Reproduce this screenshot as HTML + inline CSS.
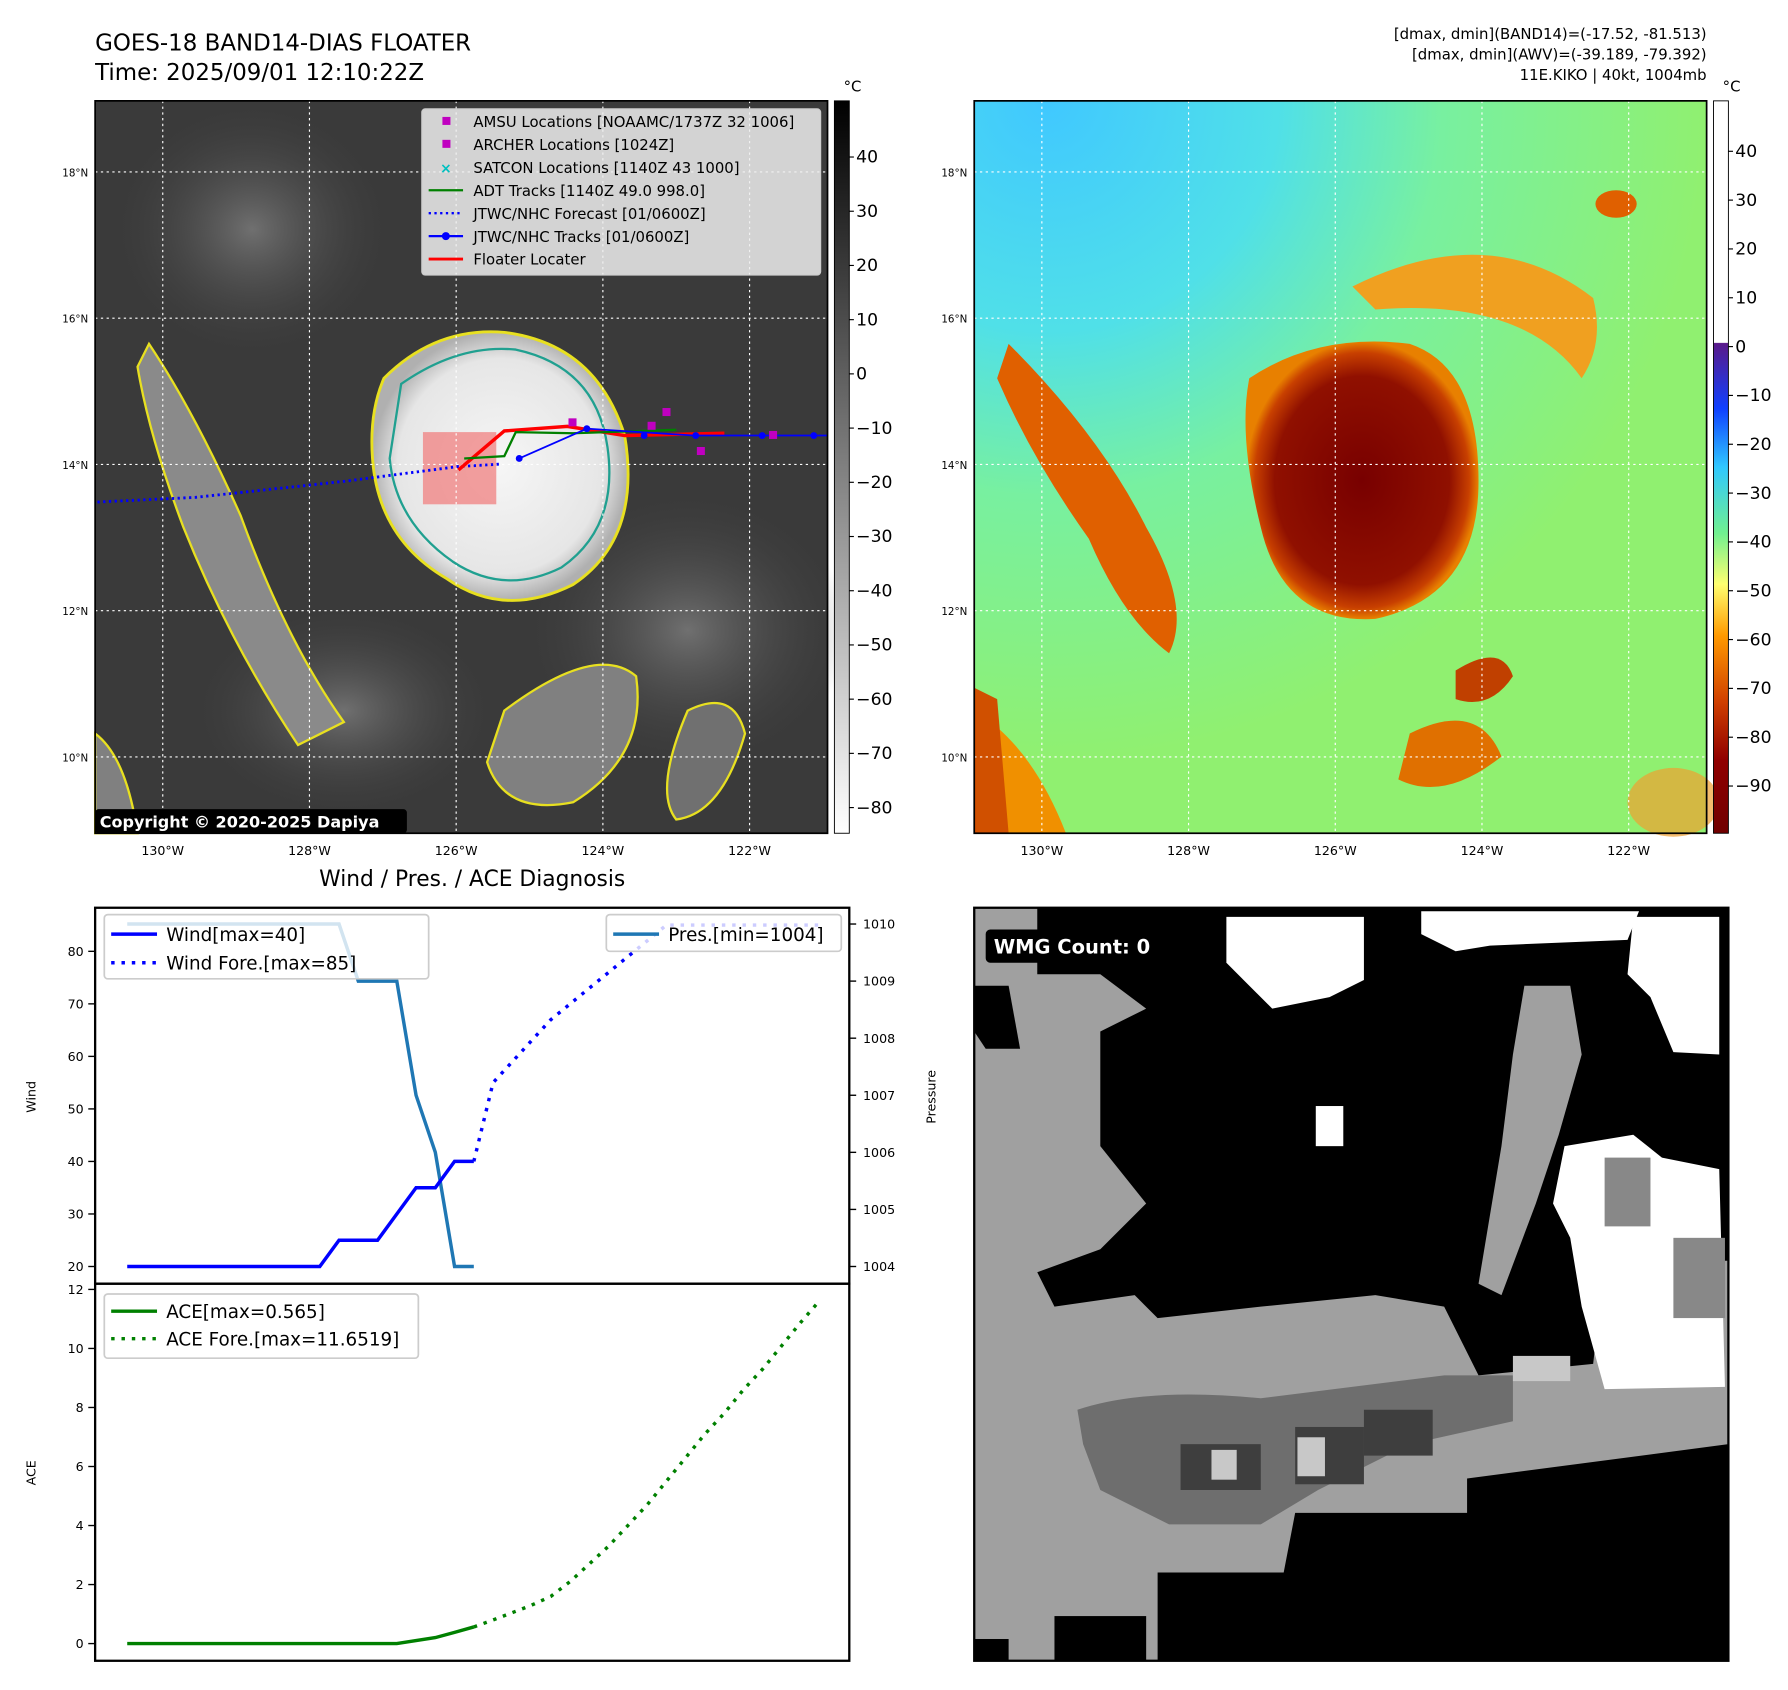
<!DOCTYPE html>
<html><head><meta charset="utf-8"><style>html,body{margin:0;padding:0;background:#fff}svg{display:block}text{font-family:"DejaVu Sans","Liberation Sans",sans-serif}</style></head>
<body>
<svg id="fig" width="1788" height="1690" viewBox="0 0 1560 1474.5" preserveAspectRatio="none" xmlns="http://www.w3.org/2000/svg">
<defs>
<linearGradient id="gcb" x1="0" y1="0" x2="0" y2="1"><stop offset="0" stop-color="#000"/><stop offset="1" stop-color="#fff"/></linearGradient>
<linearGradient id="jcb" x1="0" y1="0" x2="0" y2="1">
<stop offset="0" stop-color="#fff"/><stop offset="0.33" stop-color="#fff"/><stop offset="0.331" stop-color="#5a1a8a"/><stop offset="0.42" stop-color="#1040ff"/><stop offset="0.5" stop-color="#30c8ff"/><stop offset="0.59" stop-color="#70f090"/><stop offset="0.66" stop-color="#ffff70"/><stop offset="0.73" stop-color="#ff9a00"/><stop offset="0.82" stop-color="#d04000"/><stop offset="0.9" stop-color="#900000"/><stop offset="1" stop-color="#700000"/></linearGradient>
<radialGradient id="storm" cx="0.5" cy="0.5" r="0.5"><stop offset="0" stop-color="#f6f6f6"/><stop offset="0.8" stop-color="#e6e6e6"/><stop offset="1" stop-color="#b0b0b0"/></radialGradient>
<radialGradient id="hot" cx="0.5" cy="0.5" r="0.5"><stop offset="0" stop-color="#780000"/><stop offset="0.75" stop-color="#901000"/><stop offset="0.92" stop-color="#c84000"/><stop offset="1" stop-color="#e88000"/></radialGradient>
<radialGradient id="cyanbg" cx="0.1" cy="0.0" r="0.9"><stop offset="0" stop-color="#40c8ff"/><stop offset="0.35" stop-color="#50e0e8"/><stop offset="0.6" stop-color="#78f0a0"/><stop offset="1" stop-color="#90f070"/></radialGradient>
<radialGradient id="grayhaze" cx="0.5" cy="0.5" r="0.5"><stop offset="0" stop-color="#707070"/><stop offset="1" stop-color="#404040" stop-opacity="0"/></radialGradient>
</defs>

<text x="83" y="44" font-size="20">GOES-18 BAND14-DIAS FLOATER</text>
<text x="83" y="70" font-size="20">Time: 2025/09/01 12:10:22Z</text>
<text x="1489" y="34" font-size="13" text-anchor="end">[dmax, dmin](BAND14)=(-17.52, -81.513)</text>
<text x="1489" y="52" font-size="13" text-anchor="end">[dmax, dmin](AWV)=(-39.189, -79.392)</text>
<text x="1489" y="70" font-size="13" text-anchor="end">11E.KIKO | 40kt, 1004mb</text>

<g>
<rect x="83" y="88" width="639" height="639" fill="#3a3a3a"/>
<ellipse cx="220" cy="200" rx="120" ry="110" fill="url(#grayhaze)"/>
<ellipse cx="600" cy="550" rx="140" ry="120" fill="url(#grayhaze)"/>
<ellipse cx="300" cy="620" rx="130" ry="90" fill="url(#grayhaze)"/>
<path d="M130 300 Q170 360 210 450 Q250 560 300 630 L260 650 Q200 560 160 460 Q130 380 120 320Z" fill="#8a8a8a" stroke="#e8e020" stroke-width="2"/>
<path d="M335 330 Q380 285 440 290 Q520 300 545 380 Q560 470 500 510 Q440 540 390 505 Q330 470 325 400 Q322 360 335 330Z" fill="url(#storm)" stroke="#e8e020" stroke-width="2.5"/>
<path d="M350 335 Q400 300 450 305 Q520 320 530 390 Q540 460 490 495 Q440 520 395 490 Q345 455 340 400Z" fill="none" stroke="#20a090" stroke-width="2"/>
<path d="M440 620 Q520 560 555 590 Q565 660 500 700 Q440 712 425 665Z" fill="#808080" stroke="#e8e020" stroke-width="2"/>
<path d="M600 620 Q640 600 650 640 Q630 710 590 715 Q570 690 600 620Z" fill="#707070" stroke="#e8e020" stroke-width="2"/>
<path d="M83 640 Q110 660 120 727 L83 727Z" fill="#808080" stroke="#e8e020" stroke-width="2"/>
<rect x="369" y="377" width="64" height="63" fill="#f08080" opacity="0.75"/>
</g>
<g id="gridL" stroke="#fff" stroke-dasharray="2,3" stroke-width="1"></g>
<g>
<path d="M85 438 L170 434 L300 420 L400 407 L436 405" fill="none" stroke="#0000ff" stroke-width="2.5" stroke-dasharray="2,3"/>
<path d="M400 410 L440 376 L495 372 L545 380 L632 378" fill="none" stroke="#ff0000" stroke-width="3"/>
<path d="M405 400 L440 398 L450 377 L500 378 L590 375" fill="none" stroke="#008000" stroke-width="2"/>
<path d="M453 400 L512 374 L605 380 L722 380" fill="none" stroke="#0000ff" stroke-width="1.5"/>
<circle cx="453" cy="400" r="3" fill="#0000ff"/><circle cx="512" cy="374" r="3" fill="#0000ff"/><circle cx="562" cy="380" r="3" fill="#0000ff"/><circle cx="607" cy="380" r="3" fill="#0000ff"/><circle cx="665" cy="380" r="3" fill="#0000ff"/><circle cx="710" cy="380" r="3" fill="#0000ff"/>
<rect x="496" y="365" width="7" height="7" fill="#c000c0"/><rect x="578" y="356" width="7" height="7" fill="#c000c0"/><rect x="565" y="368" width="7" height="7" fill="#c000c0"/><rect x="608" y="390" width="7" height="7" fill="#c000c0"/><rect x="671" y="376" width="7" height="7" fill="#c000c0"/>
</g>
<g>
<rect x="368" y="95" width="348" height="145" rx="3" fill="#eee" fill-opacity="0.85" stroke="#ccc"/>
<rect x="386" y="102" width="7" height="7" fill="#c000c0"/><text x="413" y="111" font-size="13">AMSU Locations [NOAAMC/1737Z 32 1006]</text>
<rect x="386" y="122" width="7" height="7" fill="#c000c0"/><text x="413" y="131" font-size="13">ARCHER Locations [1024Z]</text>
<text x="384" y="151" font-size="12" fill="#00c0c0" font-weight="bold">×</text><text x="413" y="151" font-size="13">SATCON Locations [1140Z 43 1000]</text>
<line x1="374" y1="166" x2="404" y2="166" stroke="#008000" stroke-width="2"/><text x="413" y="171" font-size="13">ADT Tracks [1140Z 49.0 998.0]</text>
<line x1="374" y1="186" x2="404" y2="186" stroke="#0000ff" stroke-width="2" stroke-dasharray="2,3"/><text x="413" y="191" font-size="13">JTWC/NHC Forecast [01/0600Z]</text>
<line x1="374" y1="206" x2="404" y2="206" stroke="#0000ff" stroke-width="2"/><circle cx="389" cy="206" r="3.5" fill="#0000ff"/><text x="413" y="211" font-size="13">JTWC/NHC Tracks [01/0600Z]</text>
<line x1="374" y1="226" x2="404" y2="226" stroke="#ff0000" stroke-width="2.5"/><text x="413" y="231" font-size="13">Floater Locater</text>
</g>
<rect x="83" y="88" width="639" height="639" fill="none" stroke="#000" stroke-width="1.5"/>
<rect x="83" y="706" width="272" height="21" rx="3" fill="#000"/>
<text x="87" y="722" font-size="14" font-weight="bold" fill="#fff">Copyright © 2020-2025 Dapiya</text>
<rect x="728" y="88" width="13" height="639" fill="url(#gcb)" stroke="#000" stroke-width="0.8"/>
<text x="736" y="80" font-size="13">°C</text>
<g id="cbL" font-size="15"></g>

<g>
<rect x="850" y="88" width="639" height="639" fill="url(#cyanbg)"/>
<path d="M880 300 Q960 380 1000 460 Q1040 530 1020 570 Q980 540 950 470 Q900 400 870 330Z" fill="#e06000"/>
<path d="M850 620 Q900 650 930 727 L850 727Z" fill="#f09000"/>
<path d="M850 600 L870 610 L880 727 L850 727Z" fill="#d05000"/>
<path d="M1180 250 Q1300 190 1390 260 Q1400 300 1380 330 Q1330 260 1200 270Z" fill="#f0a020"/>
<path d="M1090 330 Q1150 290 1230 300 Q1290 320 1290 420 Q1290 520 1200 540 Q1120 545 1100 460 Q1080 380 1090 330Z" fill="url(#hot)"/>
<path d="M1270 585 Q1310 560 1320 590 Q1300 620 1270 610Z" fill="#c04000"/>
<path d="M1230 640 Q1290 610 1310 660 Q1260 700 1220 680Z" fill="#e07000"/>
<ellipse cx="1410" cy="178" rx="18" ry="12" fill="#e06000"/>
<ellipse cx="1460" cy="700" rx="40" ry="30" fill="#f0a030" opacity="0.7"/>
</g>
<g id="gridR" stroke="#fff" stroke-dasharray="2,3" stroke-width="1"></g>
<rect x="850" y="88" width="639" height="639" fill="none" stroke="#000" stroke-width="1.5"/>
<rect x="1495" y="88" width="13" height="639" fill="url(#jcb)" stroke="#000" stroke-width="0.8"/>
<text x="1503" y="80" font-size="13">°C</text>
<g id="cbR" font-size="15"></g>
<g id="mapTicks" font-size="11"></g>

<g>
<rect x="850" y="792" width="658" height="657" fill="#a0a0a0"/>
<path d="M905 792 L1508 792 L1508 1100 L1400 1100 L1390 1190 L1290 1200 L1260 1140 L1200 1130 L1100 1140 L1010 1150 L990 1130 L920 1140 L905 1110 L960 1090 L1000 1050 L960 1000 L960 900 L1000 880 L960 850 L905 850Z" fill="#000"/>
<path d="M850 860 L880 860 L890 915 L860 915 L850 900Z" fill="#000"/>
<path d="M1330 860 L1370 860 L1380 920 L1360 990 L1340 1050 L1310 1130 L1290 1120 L1310 1000 L1320 920Z" fill="#a0a0a0"/>
<path d="M1070 800 L1190 800 L1190 855 L1160 870 L1110 880 L1090 860 L1070 840Z" fill="#fff"/>
<path d="M1240 795 L1430 795 L1420 820 L1300 825 L1270 830 L1240 815Z" fill="#fff"/>
<path d="M1425 800 L1500 800 L1500 920 L1460 918 L1440 870 L1420 850Z" fill="#fff"/>
<path d="M1365 1000 L1425 990 L1450 1010 L1500 1020 L1505 1210 L1400 1212 L1380 1140 L1370 1080 L1355 1050Z" fill="#fff"/>
<rect x="1400" y="1010" width="40" height="60" fill="#888"/><rect x="1460" y="1080" width="45" height="70" fill="#888"/>
<rect x="1148" y="965" width="24" height="35" fill="#fff"/>
<path d="M940 1230 Q1000 1210 1100 1220 L1260 1200 L1320 1200 L1320 1240 L1230 1260 L1150 1300 L1100 1330 L1020 1330 L960 1300 L945 1260Z" fill="#6e6e6e"/>
<rect x="1030" y="1260" width="70" height="40" fill="#3e3e3e"/><rect x="1130" y="1245" width="60" height="50" fill="#3e3e3e"/><rect x="1190" y="1230" width="60" height="40" fill="#3e3e3e"/>
<rect x="1057" y="1265" width="22" height="26" fill="#c8c8c8"/><rect x="1132" y="1254" width="24" height="34" fill="#c8c8c8"/><rect x="1320" y="1183" width="50" height="22" fill="#c8c8c8"/>
<path d="M1280 1290 L1508 1260 L1508 1449 L1010 1449 L1010 1372 L1120 1372 L1130 1320 L1280 1320Z" fill="#000"/>
<rect x="850" y="1430" width="30" height="19" fill="#000"/><rect x="920" y="1410" width="80" height="39" fill="#000"/>
<rect x="860" y="811" width="158" height="29" rx="4" fill="#000"/>
<text x="867" y="832" font-size="17" font-weight="bold" fill="#fff">WMG Count: 0</text>
<rect x="850" y="792" width="658" height="657" fill="none" stroke="#000" stroke-width="2"/>
</g>

<text x="412" y="773" font-size="19" text-anchor="middle">Wind / Pres. / ACE Diagnosis</text>
<g id="chart"></g>
<rect x="83" y="792" width="658" height="328" fill="none" stroke="#000" stroke-width="2"/>
<rect x="83" y="1120" width="658" height="329" fill="none" stroke="#000" stroke-width="2"/>
<text transform="translate(31 957) rotate(-90)" font-size="11" text-anchor="middle">Wind</text>
<text transform="translate(816 957) rotate(-90)" font-size="11" text-anchor="middle">Pressure</text>
<text transform="translate(31 1285) rotate(-90)" font-size="11" text-anchor="middle">ACE</text>
<g>
<rect x="91" y="798" width="283" height="56" rx="3" fill="#fff" fill-opacity="0.8" stroke="#ccc" stroke-width="1.5"/>
<line x1="97" y1="815" x2="137" y2="815" stroke="#0000ff" stroke-width="3"/><text x="145" y="821" font-size="16">Wind[max=40]</text>
<line x1="97" y1="840" x2="137" y2="840" stroke="#0000ff" stroke-width="3" stroke-dasharray="3,6"/><text x="145" y="846" font-size="16">Wind Fore.[max=85]</text>
</g>
<g>
<rect x="529" y="798" width="205" height="32" rx="3" fill="#fff" fill-opacity="0.8" stroke="#ccc" stroke-width="1.5"/>
<line x1="535" y1="815" x2="575" y2="815" stroke="#1f77b4" stroke-width="3"/><text x="583" y="821" font-size="16">Pres.[min=1004]</text>
</g>
<g>
<rect x="91" y="1129" width="274" height="56" rx="3" fill="#fff" fill-opacity="0.8" stroke="#ccc" stroke-width="1.5"/>
<line x1="97" y1="1144" x2="137" y2="1144" stroke="#008000" stroke-width="3"/><text x="145" y="1150" font-size="16">ACE[max=0.565]</text>
<line x1="97" y1="1168" x2="137" y2="1168" stroke="#008000" stroke-width="3" stroke-dasharray="3,6"/><text x="145" y="1174" font-size="16">ACE Fore.[max=11.6519]</text>
</g>
</svg>
<script>
const windObs=[20,20,20,20,20,20,20,20,20,20,20,25,25,25,30,35,35,40,40];
const windFore=[40,55,59,63,67,70,73,76,79,82,85,85,85,85,85,85,85,85,85];
const presObs=[1010,1010,1010,1010,1010,1010,1010,1010,1010,1010,1010,1010,1009,1009,1009,1007,1006,1004,1004];
const aceObs=[0,0,0,0,0,0,0,0,0,0,0,0,0,0,0,0.1,0.2,0.38,0.565];
const aceFore=[0.565,0.8,1.05,1.3,1.6,2.1,2.7,3.3,4.0,4.7,5.5,6.3,7.1,7.8,8.6,9.3,10.1,10.9,11.65];
const windTicks=[20,30,40,50,60,70,80];
const presTicks=[1004,1005,1006,1007,1008,1009,1010];
const aceTicks=[0,2,4,6,8,10,12];
const irTicks=[40,30,20,10,0,-10,-20,-30,-40,-50,-60,-70,-80];
const awvTicks=[40,30,20,10,0,-10,-20,-30,-40,-50,-60,-70,-80,-90];
const lonTicks=[130,128,126,124,122];
const latTicks=[18,16,14,12,10];

const NS='http://www.w3.org/2000/svg';
function mk(tag,attrs,parent){const e=document.createElementNS(NS,tag);for(const k in attrs)e.setAttribute(k,attrs[k]);parent.appendChild(e);return e;}
const xS=i=>111+16.8*i;
const yW=v=>1105-(v-20)*4.583;
const yP=v=>1105-(v-1004)*49.8;
const yA=v=>1434-v*25.75;
const ch=document.getElementById('chart');
function line(vals,off,yf,color,dash,name){
  const d=vals.map((v,i)=>(i?'L':'M')+xS(i+off).toFixed(1)+' '+yf(v).toFixed(1)).join(' ');
  const p=mk('path',{d:d,fill:'none',stroke:color,'stroke-width':3,'stroke-dasharray':dash||'none'},ch);
  
  
}
line(presObs,0,yP,'#1f77b4','','pressure-line');
line(windObs,0,yW,'#0000ff','','wind-line');
line(windFore,18,yW,'#0000ff','3,6','wind-forecast-line');
line(aceObs,0,yA,'#008000','','ace-line');
line(aceFore,18,yA,'#008000','3,6','ace-forecast-line');
function ticks(arr,yf,x,side){
  arr.forEach(v=>{const y=yf(v);
    mk('line',{x1:x,x2:x+(side<0?-6:6),y1:y,y2:y,stroke:'#000','stroke-width':1.2},ch);
    const t=mk('text',{x:side<0?x-10:x+12,y:y+4,'font-size':11,'text-anchor':side<0?'end':'start'},ch);
    t.textContent=v;
    
    
  });
}
ticks(windTicks,yW,83,-1);
ticks(presTicks,yP,741,1);
ticks(aceTicks,yA,83,-1);
const cbL=document.getElementById('cbL');
irTicks.forEach(v=>{const y=137+(40-v)*4.73;mk('line',{x1:741,x2:745,y1:y,y2:y,stroke:'#000'},cbL);const t=mk('text',{x:747,y:y+5},cbL);t.textContent=(v<0?'\u2212':'')+Math.abs(v);});
const cbR=document.getElementById('cbR');
awvTicks.forEach(v=>{const y=132+(40-v)*4.26;mk('line',{x1:1508,x2:1512,y1:y,y2:y,stroke:'#000'},cbR);const t=mk('text',{x:1514,y:y+5},cbR);t.textContent=(v<0?'\u2212':'')+Math.abs(v);});
const mt=document.getElementById('mapTicks');
[[83,'gridL'],[850,'gridR']].forEach(([x0,g])=>{
  const G=document.getElementById(g);
  lonTicks.forEach(l=>{const x=x0+59+(130-l)*64;mk('line',{x1:x,x2:x,y1:88,y2:727},G);
    const t=mk('text',{x:x,y:746,'text-anchor':'middle'},mt);t.textContent=l+'°W';});
  latTicks.forEach(l=>{const y=150+(18-l)*63.8;mk('line',{x1:x0,x2:x0+639,y1:y,y2:y},G);
    const t=mk('text',{x:x0-6,y:y+4,'text-anchor':'end','font-size':9},mt);t.textContent=l+'°N';});
});
</script>
</body></html>
